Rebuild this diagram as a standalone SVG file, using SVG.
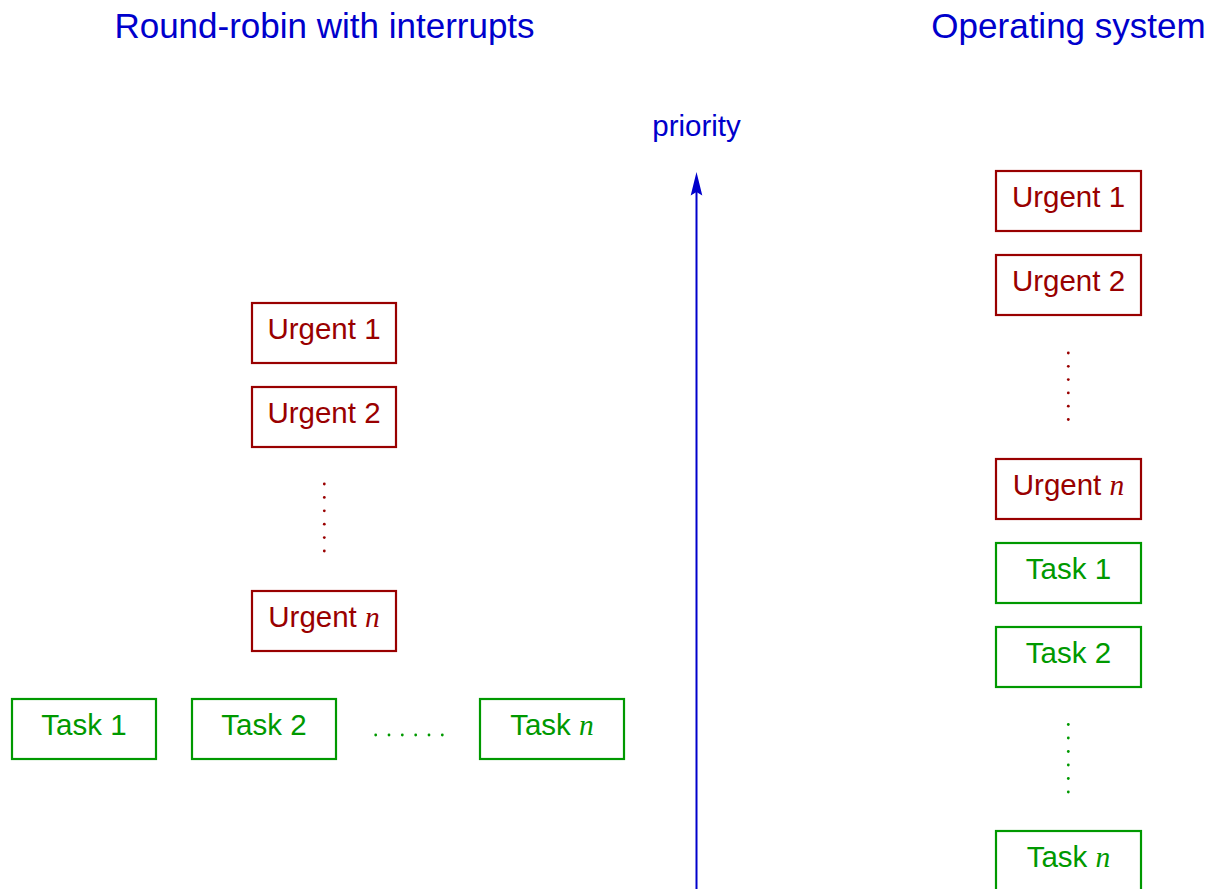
<svg xmlns="http://www.w3.org/2000/svg" width="1214" height="889" viewBox="0 0 1214 889">
  <style>
    .title { font-family: "Liberation Sans", Arial, sans-serif; font-size: 35px; fill: #0000cc; text-anchor: middle; }
    .axis { font-family: "Liberation Sans", Arial, sans-serif; font-size: 29.5px; fill: #0000cc; text-anchor: middle; }
    .lbl { font-family: "Liberation Sans", Arial, sans-serif; font-size: 29.5px; text-anchor: middle; }
    .it { font-family: "Liberation Serif", "Times New Roman", serif; font-style: italic; }
    .urg rect { fill: none; stroke: #990000; stroke-width: 2.2; }
    .urg text { fill: #990000; }
    .tsk rect { fill: none; stroke: #009900; stroke-width: 2.2; }
    .tsk text { fill: #009900; }
    .rdot { fill: #990000; }
    .gdot { fill: #009900; }
  </style>
  <defs>
    <marker id="arrow" markerUnits="userSpaceOnUse" markerWidth="26" markerHeight="14" refX="6" refY="7" orient="auto" viewBox="0 0 26 14">
      <path d="M26,7 L2.5,1.2 L6,7 L2.5,12.8 Z" fill="#0000cc"/>
    </marker>
  </defs>

  <text class="title" x="324.5" y="38">Round-robin with interrupts</text>
  <text class="title" x="1068.5" y="38">Operating system</text>
  <text class="axis" x="696.5" y="136">priority</text>

  <g id="connectors">
    <line x1="696.5" y1="889" x2="696.5" y2="192" stroke="#0000cc" stroke-width="2" marker-end="url(#arrow)"/>
  </g>

  <!-- Left: round-robin with interrupts -->
  <g id="rr-urgent1" class="urg"><rect x="252" y="303" width="144" height="60"/><text class="lbl" x="324" y="339">Urgent 1</text></g>
  <g id="rr-urgent2" class="urg"><rect x="252" y="387" width="144" height="60"/><text class="lbl" x="324" y="423">Urgent 2</text></g>
  <g id="rr-udots" class="rdot">
    <circle cx="324.3" cy="484" r="1.4"/><circle cx="324.3" cy="497.4" r="1.4"/><circle cx="324.3" cy="510.8" r="1.4"/>
    <circle cx="324.3" cy="524.2" r="1.4"/><circle cx="324.3" cy="537.6" r="1.4"/><circle cx="324.3" cy="551" r="1.4"/>
  </g>
  <g id="rr-urgentn" class="urg"><rect x="252" y="591" width="144" height="60"/><text class="lbl" x="324" y="627">Urgent <tspan class="it">n</tspan></text></g>

  <g id="rr-task1" class="tsk"><rect x="12" y="699" width="144" height="60"/><text class="lbl" x="84" y="735">Task 1</text></g>
  <g id="rr-task2" class="tsk"><rect x="192" y="699" width="144" height="60"/><text class="lbl" x="264" y="735">Task 2</text></g>
  <g id="rr-tdots" class="gdot">
    <circle cx="375.7" cy="735" r="1.4"/><circle cx="389" cy="735" r="1.4"/><circle cx="402.3" cy="735" r="1.4"/>
    <circle cx="415.7" cy="735" r="1.4"/><circle cx="429" cy="735" r="1.4"/><circle cx="442.3" cy="735" r="1.4"/>
  </g>
  <g id="rr-taskn" class="tsk"><rect x="480" y="699" width="144" height="60"/><text class="lbl" x="552" y="735">Task <tspan class="it">n</tspan></text></g>

  <!-- Right: operating system -->
  <g id="os-urgent1" class="urg"><rect x="996" y="171" width="145" height="60"/><text class="lbl" x="1068.5" y="207">Urgent 1</text></g>
  <g id="os-urgent2" class="urg"><rect x="996" y="255" width="145" height="60"/><text class="lbl" x="1068.5" y="291">Urgent 2</text></g>
  <g id="os-udots" class="rdot">
    <circle cx="1068.3" cy="353" r="1.4"/><circle cx="1068.3" cy="366.3" r="1.4"/><circle cx="1068.3" cy="379.6" r="1.4"/>
    <circle cx="1068.3" cy="392.9" r="1.4"/><circle cx="1068.3" cy="406.2" r="1.4"/><circle cx="1068.3" cy="419.5" r="1.4"/>
  </g>
  <g id="os-urgentn" class="urg"><rect x="996" y="459" width="145" height="60"/><text class="lbl" x="1068.5" y="495">Urgent <tspan class="it">n</tspan></text></g>
  <g id="os-task1" class="tsk"><rect x="996" y="543" width="145" height="60"/><text class="lbl" x="1068.5" y="579">Task 1</text></g>
  <g id="os-task2" class="tsk"><rect x="996" y="627" width="145" height="60"/><text class="lbl" x="1068.5" y="663">Task 2</text></g>
  <g id="os-tdots" class="gdot">
    <circle cx="1068.3" cy="724.5" r="1.4"/><circle cx="1068.3" cy="738" r="1.4"/><circle cx="1068.3" cy="751.5" r="1.4"/>
    <circle cx="1068.3" cy="765" r="1.4"/><circle cx="1068.3" cy="778.5" r="1.4"/><circle cx="1068.3" cy="792" r="1.4"/>
  </g>
  <g id="os-taskn" class="tsk"><rect x="996" y="831" width="145" height="60"/><text class="lbl" x="1068.5" y="867">Task <tspan class="it">n</tspan></text></g>
</svg>
